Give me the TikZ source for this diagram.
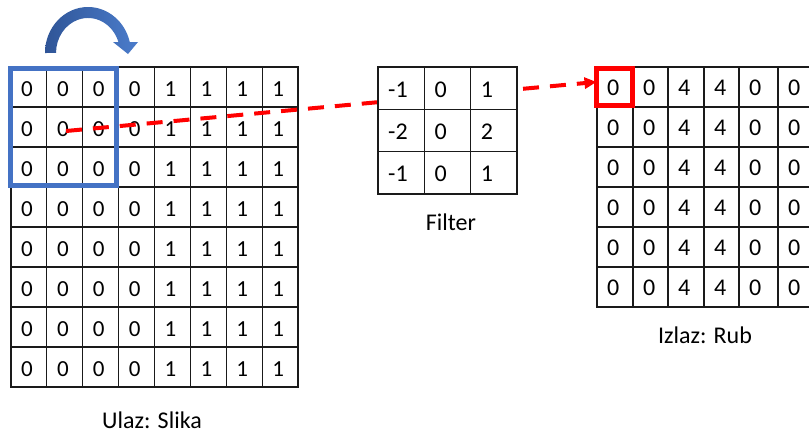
\documentclass[tikz,border=0pt]{standalone}
\usepackage{fontspec}
\setmainfont{Carlito}
\usetikzlibrary{arrows.meta}
\definecolor{winblue}{HTML}{4472C4}
\definecolor{arrowdark}{HTML}{2F5597}
\definecolor{arrowlight}{HTML}{4B7CCB}
\definecolor{outred}{HTML}{FF0000}
\definecolor{gridgray}{HTML}{1A1A1A}
\begin{document}
\begin{tikzpicture}[x=1pt,y=1pt,yscale=-1,
  gridline/.style={draw=gridgray, line width=1.2pt, line cap=rect},
  cellnum/.style={anchor=base west, inner sep=0pt, font=\fontsize{23}{27}\selectfont},
  bignum/.style={anchor=base west, inner sep=0pt, font=\fontsize{24}{28}\selectfont},
  caption/.style={anchor=base, inner sep=0pt, font=\fontsize{24}{28}\selectfont},
  window/.style={draw=winblue, line width=5pt, inner sep=0pt, outer sep=0pt},
  outbox/.style={draw=outred, line width=5pt, inner sep=0pt, outer sep=0pt},
  redarrow/.style={draw=outred, line width=4pt, dash pattern=on 16pt off 11pt,
     -{Triangle[length=12pt,width=11pt]}}]
\useasboundingbox (0,0) rectangle (809,434);
\fill[white] (0,0) rectangle (809,434);

% ---------- input image 8x8 ----------
\foreach \i in {0,...,8}
  \draw[gridline] ({11+35.875*\i},67) -- ({11+35.875*\i},387);
\foreach \j in {0,...,8}
  \draw[gridline] (11,{67+40*\j}) -- (298,{67+40*\j});
\foreach \r in {0,...,7}{
  \foreach \v [count=\c from 0] in {0,0,0,0,1,1,1,1}
    \node[cellnum] (in-\r-\c) at ({11+35.875*\c+10},{67+40*\r+29}) {\v};
}
\node[caption] (inlabel) at (152,428) {Ulaz: Slika};

% ---------- sliding window ----------
\node[window, minimum width=106pt, minimum height=117pt] (win) at (63.5,127) {};

% ---------- curved blue arrow ----------
\shade[left color=arrowdark, right color=arrowlight]
  (45,53) arc[start angle=180, end angle=346.2, x radius=43, y radius=46]
  -- (138,42) -- (128,54) -- (113,42) -- (118.4,42)
  arc[start angle=341.7, end angle=180, x radius=32, y radius=35] -- cycle;

% ---------- output 6x6 ----------
\def\outcols{597,633,668,704,739,778,817}
\foreach \x in \outcols
  \draw[gridline] (\x,67) -- (\x,307);
\foreach \j in {0,...,6}
  \draw[gridline] (597,{67+40*\j}) -- (817,{67+40*\j});
\foreach \r in {0,...,5}{
  \foreach \v/\x [count=\c from 0] in {0/597,0/633,4/668,4/704,0/739,0/778}
    \node[bignum] (out-\r-\c) at ({\x+10},{67+40*\r+28.5}) {\v};
}
\node[caption] (outlabel) at (705,343) {Izlaz: Rub};
\node[outbox, minimum width=36pt, minimum height=37pt] (redbox) at (614.5,87) {};

% ---------- dashed red connector ----------
\coordinate (src) at (66,131);
\draw[redarrow] (src) -- ([yshift=-5pt]redbox.west);

% ---------- filter 3x3 ----------
\fill[white] (378,67) rectangle (517,194);
\foreach \i in {0,...,3}
  \draw[gridline] ({378+46.333*\i},67) -- ({378+46.333*\i},194);
\foreach \j in {0,...,3}
  \draw[gridline] (378,{67+42.333*\j}) -- (517,{67+42.333*\j});
\foreach \row/\vals [count=\r from 0] in {a/{-1,0,1},b/{-2,0,2},c/{-1,0,1}}{
  \foreach \v [count=\c from 0] in \vals
    \node[bignum] (f-\r-\c) at ({378+46.333*\c+10},{67+42.333*\r+30}) {\v};
}
\node[caption] (flabel) at (451,230) {Filter};
\end{tikzpicture}
\end{document}
